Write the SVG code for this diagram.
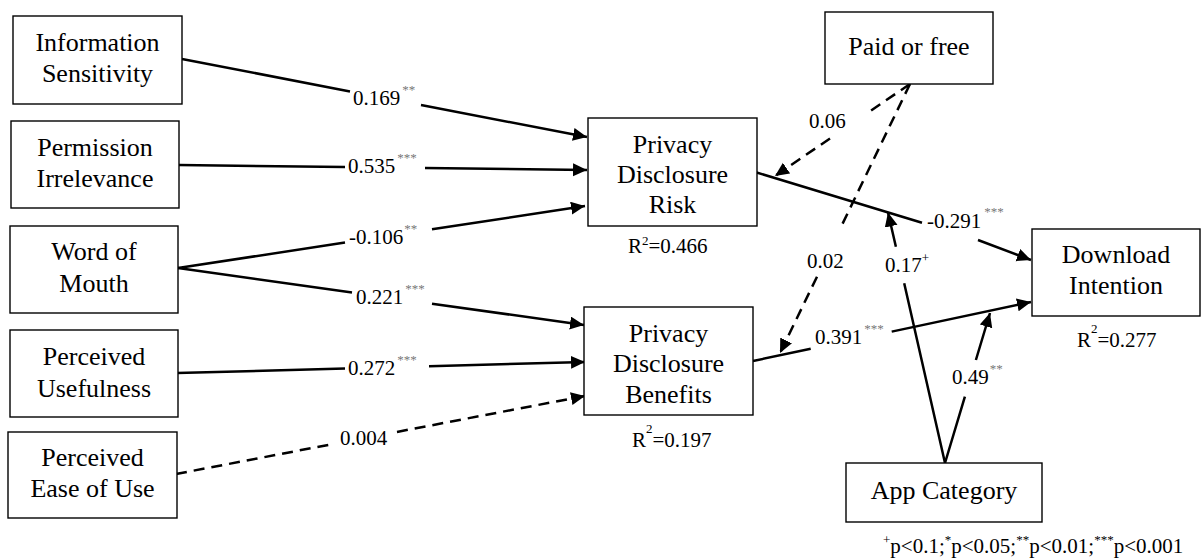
<svg xmlns="http://www.w3.org/2000/svg" width="1201" height="559" viewBox="0 0 1201 559">
<style>
.box{fill:#fff;stroke:#000;stroke-width:1.4}
.nt{font-family:"Liberation Serif","Times New Roman",serif;font-size:26px;fill:#000;text-anchor:middle}
.lb{font-family:"Liberation Serif","Times New Roman",serif;font-size:21px;fill:#000}
.st{font-size:13px;fill:#777}
.sp{font-size:13px;fill:#000}
.e{fill:none;stroke:#000;stroke-width:2.5;marker-end:url(#ah)}
.d{stroke-dasharray:11 7}
</style>
<defs>
<marker id="ah" markerUnits="userSpaceOnUse" markerWidth="15" markerHeight="14" refX="14" refY="6.5" orient="auto">
<path d="M0,0 L14,6.5 L0,13 z" fill="#000"/>
</marker>
</defs>
<rect width="1201" height="559" fill="#fff"/>
<g id="connectors">
<path class="e" d="M182,59 L350,91.4 M421,105 L587,137"/>
<path class="e" d="M179,165 L345,167 M425,168 L587,170"/>
<path class="e" d="M178,268 L345,242.6 M432,229.3 L585,206"/>
<path class="e" d="M178,268 L352,292.4 M432,303.7 L584,325"/>
<path class="e" d="M177,373 L345,368.5 M429,366.2 L585,362"/>
<path class="e d" d="M176,474 L333,444 M397,431.9 L585,396"/>
<path class="e d" d="M910,84 L870,111.2 M830,138.5 L775,176"/>
<path class="e d" d="M910,84 L840,229 M817,276.7 L780,353"/>
<path class="e" d="M755,172 L922,222.8 M978,240 L1031,260"/>
<path class="e" d="M753,361 L810.7,348.8 M891.7,331.6 L1031,302"/>
<path class="e" d="M945,463 L904.2,283.3 M895.9,246.7 L888,212.5"/>
<path class="e" d="M945,463 L964.9,396.7 M975.9,360 L990,313"/>
</g>
<g id="info-sensitivity"><rect class="box" x="13" y="16" width="169" height="88"/><text class="nt" x="97.5" y="51">Information</text><text class="nt" x="97.5" y="82">Sensitivity</text></g>
<g id="permission-irrelevance"><rect class="box" x="11" y="121" width="168" height="87"/><text class="nt" x="95" y="156">Permission</text><text class="nt" x="95" y="187">Irrelevance</text></g>
<g id="word-of-mouth"><rect class="box" x="10" y="226" width="168" height="87"/><text class="nt" x="94" y="260">Word of</text><text class="nt" x="94" y="291.5">Mouth</text></g>
<g id="perceived-usefulness"><rect class="box" x="10" y="330" width="168" height="87"/><text class="nt" x="94" y="365">Perceived</text><text class="nt" x="94" y="396.5">Usefulness</text></g>
<g id="perceived-ease"><rect class="box" x="8" y="432" width="169" height="86"/><text class="nt" x="92.5" y="466">Perceived</text><text class="nt" x="92.5" y="496.5">Ease of Use</text></g>
<g id="pdr"><rect class="box" x="588" y="118" width="169" height="108"/><text class="nt" x="672.5" y="152.5">Privacy</text><text class="nt" x="672.5" y="182.5">Disclosure</text><text class="nt" x="672.5" y="213">Risk</text>
<text class="lb" x="628" y="253">R<tspan class="sp" dy="-8">2</tspan><tspan dy="8">=0.466</tspan></text></g>
<g id="pdb"><rect class="box" x="584" y="307" width="169" height="108"/><text class="nt" x="668.5" y="341.5">Privacy</text><text class="nt" x="668.5" y="371.5">Disclosure</text><text class="nt" x="668.5" y="402.5">Benefits</text>
<text class="lb" x="632" y="447">R<tspan class="sp" dy="-14">2</tspan><tspan dy="14">=0.197</tspan></text></g>
<g id="paid-or-free"><rect class="box" x="825" y="12" width="168" height="72"/><text class="nt" x="909" y="55">Paid or free</text></g>
<g id="download-intention"><rect class="box" x="1032" y="229" width="168" height="87"/><text class="nt" x="1116" y="263">Download</text><text class="nt" x="1116" y="293.5">Intention</text>
<text class="lb" x="1077" y="347">R<tspan class="sp" dy="-14">2</tspan><tspan dy="14">=0.277</tspan></text></g>
<g id="app-category"><rect class="box" x="846" y="463" width="196" height="59"/><text class="nt" x="944" y="499">App Category</text></g>
<g id="labels">
<text class="lb" x="353" y="105">0.169<tspan class="st" dx="2" dy="-11">**</tspan></text>
<text class="lb" x="348" y="173">0.535<tspan class="st" dx="2" dy="-11">***</tspan></text>
<text class="lb" x="349" y="244">-0.106<tspan class="st" dx="1" dy="-11">**</tspan></text>
<text class="lb" x="356" y="304">0.221<tspan class="st" dx="2" dy="-11">***</tspan></text>
<text class="lb" x="348" y="375">0.272<tspan class="st" dx="2" dy="-11">***</tspan></text>
<text class="lb" x="340" y="445">0.004</text>
<text class="lb" x="809" y="128">0.06</text>
<text class="lb" x="807" y="268">0.02</text>
<text class="lb" x="927" y="228">-0.291<tspan class="st" dx="3" dy="-12">***</tspan></text>
<text class="lb" x="885" y="272">0.17<tspan class="sp" dy="-10">+</tspan></text>
<text class="lb" x="815" y="344">0.391<tspan class="st" dx="2" dy="-11">***</tspan></text>
<text class="lb" x="952" y="384">0.49<tspan class="st" dx="1" dy="-11">**</tspan></text>
<text class="lb" x="883" y="553"><tspan class="sp" dy="-9">+</tspan><tspan dy="9">p&lt;0.1;</tspan><tspan class="sp" dy="-9">*</tspan><tspan dy="9">p&lt;0.05;</tspan><tspan class="sp" dy="-9">**</tspan><tspan dy="9">p&lt;0.01;</tspan><tspan class="sp" dy="-9">***</tspan><tspan dy="9">p&lt;0.001</tspan></text>
</g>
</svg>
